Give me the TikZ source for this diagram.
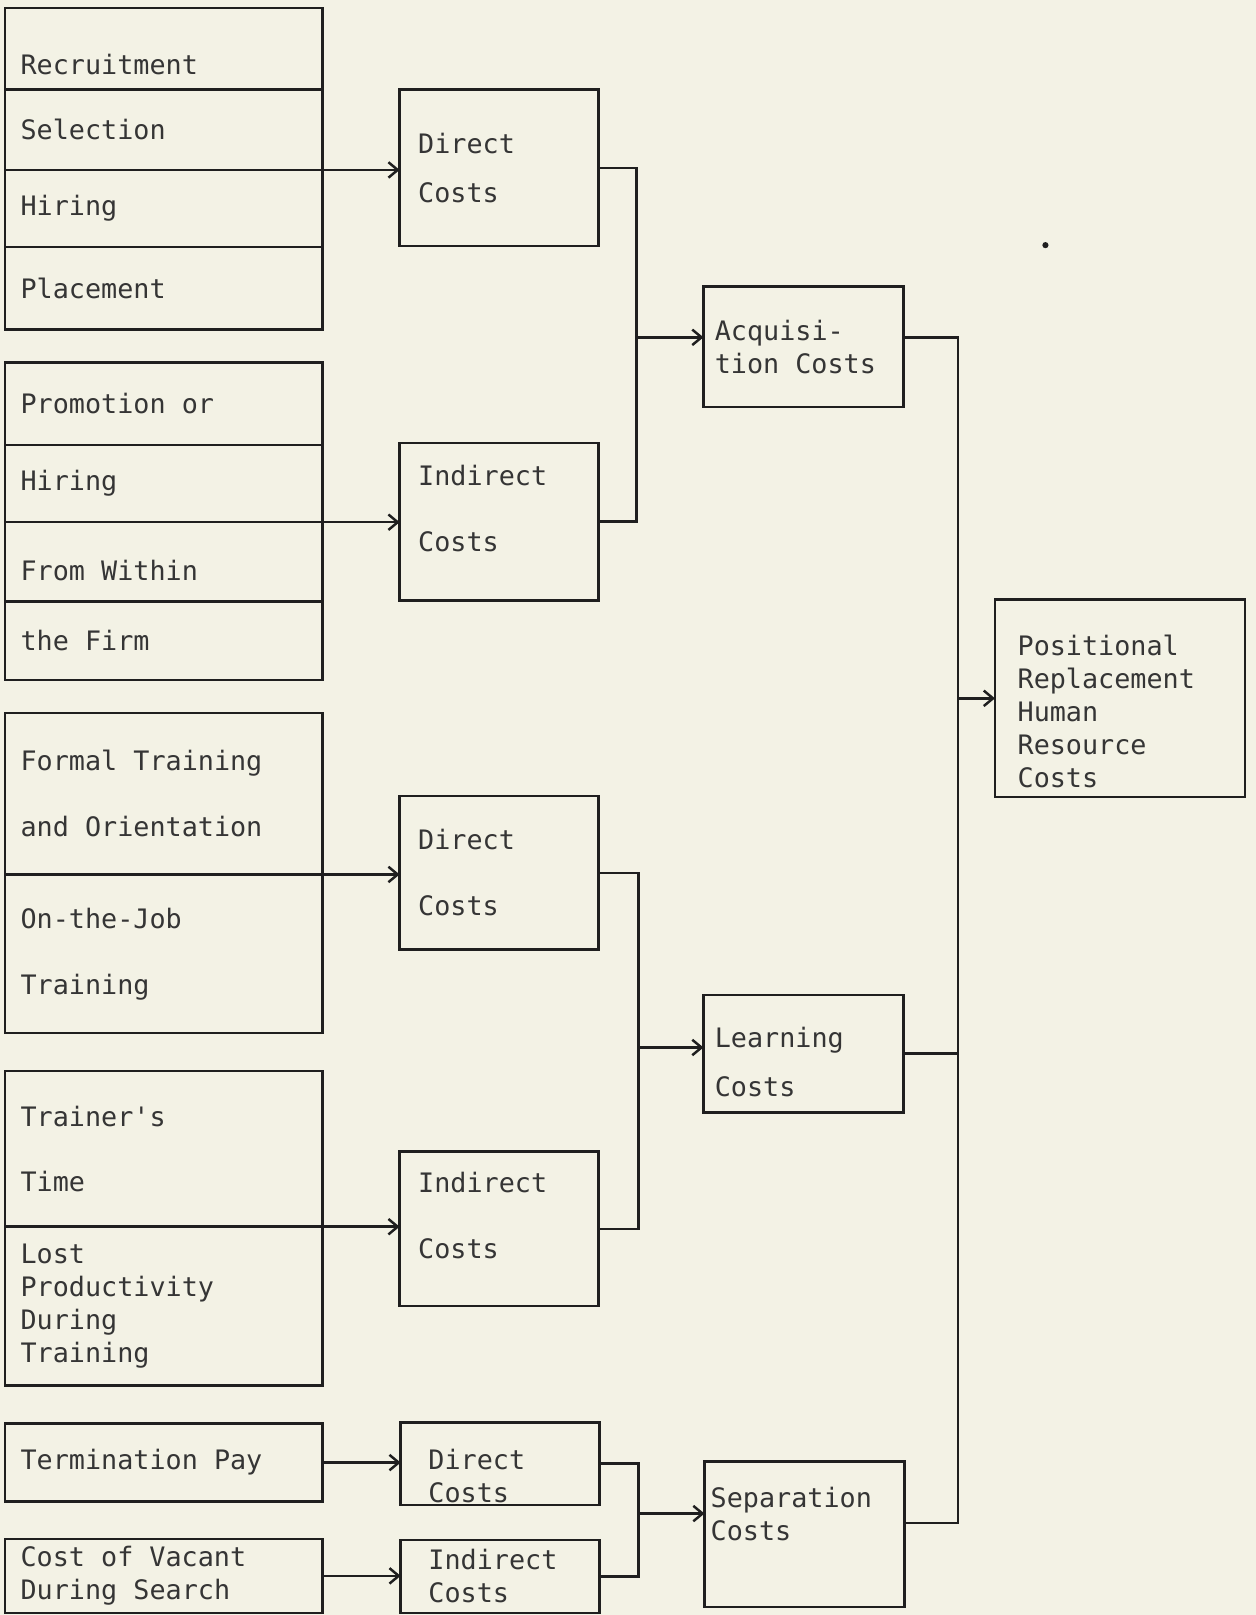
\documentclass[tikz,border=0pt]{standalone}
\usepackage{fontspec}
\setmonofont{DejaVu Sans Mono}
\usetikzlibrary{positioning}
\usetikzlibrary{arrows.meta}
\definecolor{paper}{HTML}{F3F2E5}
\definecolor{ink}{HTML}{1F1F1F}
\newcommand{\lowerby}[1]{\rule{0pt}{\dimexpr 20pt+#1*2\relax}}
\newcommand{\raiseby}[1]{\rule[-\dimexpr #1*2\relax]{0pt}{\dimexpr #1*2\relax}}
\tikzset{
  box/.style={draw=ink,rectangle,inner ysep=0pt,outer sep=0pt,align=left,text=ink!90,
    font=\ttfamily\fontsize{26}{32}\selectfont,
    execute at begin node={\spaceskip=0.6em\relax}},
  src/.style={box,inner xsep=15pt,text width=278pt},
  cost/.style={box,inner xsep=18pt,text width=157pt},
  kind/.style={box,inner xsep=11pt,text width=172pt},
  total/.style={box,inner xsep=22pt,text width=199pt},
}
\begin{document}
\begin{tikzpicture}[x=1pt,y=-1pt,line width=2.4pt,>={Straight Barb[length=9pt,width=15pt]},draw=ink]
\fill [paper] (0,0) rectangle (1219,1568);
\useasboundingbox (0,0) rectangle (1219,1568);

\node [src,anchor=north west,minimum height=79pt] (recruit) at (5,8) {\lowerby{15pt}Recruitment};
\node [src,below=0pt of recruit,minimum height=78pt] (select) {Selection};
\node [src,below=0pt of select,minimum height=75pt] (hiring) {Hiring};
\node [src,below=0pt of hiring,minimum height=80pt] (place) {Placement};

\node [src,anchor=north west,minimum height=80pt] (promo) at (5,352) {Promotion or};
\node [src,below=0pt of promo,minimum height=75pt] (hiring2) {Hiring};
\node [src,below=0pt of hiring2,minimum height=77pt] (within) {\lowerby{8pt}From Within};
\node [src,below=0pt of within,minimum height=76pt] (firm) {the Firm};

\node [src,anchor=north west,minimum height=157pt] (formal) at (5,692) {Formal Training\\[32pt]and Orientation};
\node [src,below=0pt of formal,minimum height=154pt] (ojt) {On-the-Job\\[32pt]Training};
\node [src,anchor=north west,minimum height=151pt] (trainer) at (5,1040) {Trainer's\\[31pt]Time};
\node [src,below=0pt of trainer,minimum height=154pt] (lostprod) {Lost\\Productivity\\During\\Training};

\node [src,anchor=north west,minimum height=76pt] (termpay) at (5,1382) {Termination Pay};
\node [src,anchor=north west,minimum height=72pt] (vacant) at (5,1494) {Cost of Vacant\\During Search};

\node [cost,anchor=north west,minimum height=152pt] (acqdir) at (388,87) {Direct\\[16pt]Costs};
\node [cost,anchor=north west,minimum height=153pt] (acqind) at (388,430) {Indirect\\[32pt]Costs\raiseby{13pt}};
\node [cost,anchor=north west,minimum height=149pt] (lrndir) at (388,773) {Direct\\[32pt]Costs};
\node [cost,anchor=north west,minimum height=150pt] (lrnind) at (388,1118) {Indirect\\[32pt]Costs\raiseby{13pt}};
\node [cost,anchor=north west,minimum height=80pt,inner xsep=27pt,text width=139pt] (sepdir) at (389,1381) {\lowerby{12pt}Direct\\Costs};
\node [cost,anchor=north west,minimum height=71pt,inner xsep=27pt,text width=139pt] (sepind) at (389,1495) {Indirect\\Costs};

\node [kind,anchor=north west,minimum height=117pt] (acq) at (683,278) {Acquisi-\\tion Costs};
\node [kind,anchor=north west,minimum height=114pt] (learn) at (683,966) {\lowerby{8pt}Learning\\[16pt]Costs};
\node [kind,anchor=north west,minimum height=141pt,inner xsep=6pt,text width=182pt] (sep) at (684,1419) {Separation\\Costs\raiseby{20pt}};

\node [total,anchor=north west,minimum height=192pt] (prhrc) at (966,582) {\lowerby{13pt}Positional\\Replacement\\Human\\Resource\\Costs};

\draw [->] (select.south east) -- (select.south east -| acqdir.west);
\draw [->] (hiring2.south east) -- (hiring2.south east -| acqind.west);
\draw [->] (formal.south east) -- (formal.south east -| lrndir.west);
\draw [->] (trainer.south east) -- (trainer.south east -| lrnind.west);
\draw [->] (termpay.east) -- (termpay.east -| sepdir.west);
\draw [->] (vacant.east) -- (vacant.east -| sepind.west);

\coordinate (acqin) at ([yshift=9pt]acq.west);
\coordinate (lrnin) at ([yshift=6pt]learn.west);
\coordinate (sepin) at ([yshift=20pt]sep.west);
\draw (acqdir.east) -- ++(37,0) coordinate (acqbus) |- (acqind.east);
\draw [->] (acqbus |- acqin) -- (acqin);
\draw (lrndir.east) -- ++(39,0) coordinate (lrnbus) |- (lrnind.east);
\draw [->] (lrnbus |- lrnin) -- (lrnin);
\draw (sepdir.east) -- ++(38,0) coordinate (sepbus) |- (sepind.east);
\draw [->] (sepbus |- sepin) -- (sepin);

\coordinate (acqout) at ([yshift=9pt]acq.east);
\coordinate (sepout) at ([yshift=11pt]sep.east);
\draw (acqout) -- ++(53,0) coordinate (totbus) |- (sepout);
\draw (learn.east) -- (learn.east -| totbus);
\draw [->] (totbus |- prhrc.west) -- (prhrc.west);

\fill [ink] (1015,238) circle (3pt);
\end{tikzpicture}
\end{document}
